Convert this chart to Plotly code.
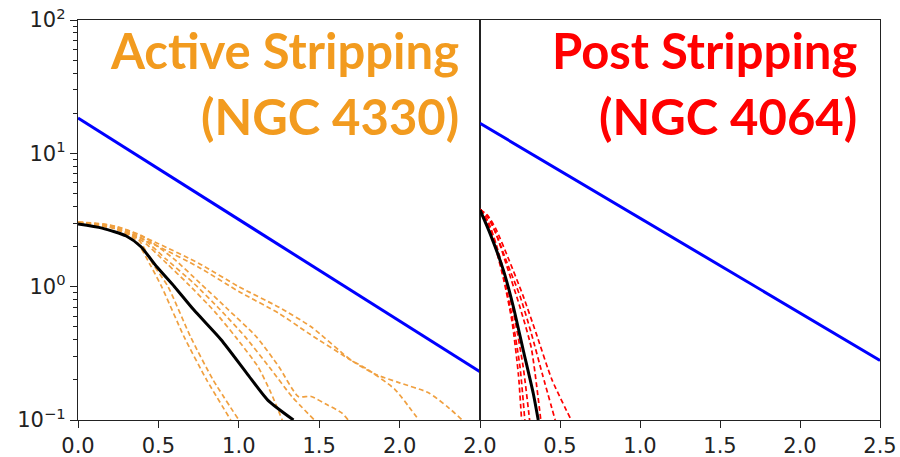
import plotly.graph_objects as go

# ---------------- data ----------------
# Left panel: NGC 4330 (active stripping)
blue_left_x = [0.0, 2.5]
blue_left_y = [18.4, 0.23]

black_left_x = [0.0, 0.15, 0.30, 0.39, 0.49, 0.60, 0.72, 0.89, 1.05, 1.18, 1.34]
black_left_y = [2.95, 2.75, 2.40, 2.00, 1.41, 1.00, 0.67, 0.40, 0.224, 0.141, 0.10]

orange_curves = [
    # steep pair
    ([0.0, 0.20, 0.35, 0.45, 0.52, 0.66, 0.80, 0.95],
     [3.0, 2.80, 2.30, 1.45, 1.00, 0.42, 0.20, 0.10]),
    ([0.0, 0.20, 0.37, 0.47, 0.56, 0.70, 0.84, 1.00],
     [3.0, 2.80, 2.30, 1.45, 1.00, 0.42, 0.20, 0.10]),
    # middle group
    ([0.0, 0.20, 0.40, 0.55, 0.68, 0.85, 0.98, 1.12, 1.20, 1.27],
     [3.0, 2.80, 2.20, 1.50, 1.06, 0.65, 0.42, 0.25, 0.16, 0.10]),
    ([0.0, 0.20, 0.40, 0.55, 0.72, 0.88, 1.04, 1.20, 1.33, 1.47],
     [3.05, 2.85, 2.30, 1.60, 1.06, 0.68, 0.42, 0.24, 0.15, 0.10]),
    ([0.0, 0.20, 0.40, 0.60, 0.76, 0.93, 1.11, 1.25, 1.37, 1.45, 1.55, 1.64, 1.68],
     [3.05, 2.90, 2.40, 1.60, 1.06, 0.68, 0.42, 0.25, 0.15, 0.15, 0.13, 0.113, 0.10]),
    # upper pair
    ([0.0, 0.25, 0.50, 0.75, 1.00, 1.25, 1.45, 1.70, 1.85, 2.00, 2.18, 2.30, 2.39],
     [3.05, 2.80, 2.10, 1.50, 1.00, 0.70, 0.50, 0.28, 0.22, 0.19, 0.16, 0.125, 0.10]),
    ([0.0, 0.25, 0.50, 0.75, 1.00, 1.25, 1.43, 1.70, 1.80, 1.97, 2.075, 2.12],
     [3.0, 2.70, 2.00, 1.40, 0.92, 0.63, 0.45, 0.28, 0.24, 0.17, 0.118, 0.10]),
]

# Right panel: NGC 4064 (post stripping)
blue_right_x = [0.0, 2.5]
blue_right_y = [16.8, 0.28]

black_right_x = [0.0, 0.0625, 0.146, 0.208, 0.27, 0.333, 0.364]
black_right_y = [3.76, 2.51, 1.33, 0.71, 0.335, 0.158, 0.10]

red_curves = [
    ([0.0, 0.05, 0.10, 0.15, 0.20, 0.24, 0.26],
     [3.8, 2.9, 1.9, 1.1, 0.55, 0.22, 0.10]),
    ([0.0, 0.05, 0.10, 0.15, 0.20, 0.25, 0.28],
     [3.8, 3.0, 2.0, 1.15, 0.60, 0.25, 0.10]),
    ([0.0, 0.05, 0.10, 0.16, 0.22, 0.27, 0.31],
     [3.8, 3.1, 2.1, 1.15, 0.55, 0.25, 0.10]),
    ([0.0, 0.05, 0.10, 0.17, 0.25, 0.32, 0.38],
     [3.8, 3.35, 2.5, 1.4, 0.70, 0.35, 0.10]),
    ([0.0, 0.05, 0.10, 0.17, 0.25, 0.32, 0.39, 0.47],
     [3.8, 3.3, 2.5, 1.5, 0.85, 0.45, 0.22, 0.10]),
    ([0.0, 0.05, 0.10, 0.18, 0.27, 0.35, 0.45, 0.57],
     [3.8, 3.4, 2.7, 1.6, 0.85, 0.45, 0.20, 0.10]),
]

y_tick_vals = [0.1, 1, 10, 100]
y_tick_text = ["10<sup>\u22121</sup>", "10<sup>0</sup>", "10<sup>1</sup>", "10<sup>2</sup>"]
x_left_ticks = [0.0, 0.5, 1.0, 1.5, 2.0]
x_left_text = ["0.0", "0.5", "1.0", "1.5", "2.0"]
x_right_ticks = [0.0, 0.5, 1.0, 1.5, 2.0, 2.5]
x_right_text = ["2.0", "0.5", "1.0", "1.5", "2.0", "2.5"]

title_left = ["Active Stripping", "(NGC 4330)"]
title_right = ["Post Stripping", "(NGC 4064)"]

# ---------------- figure ----------------
W, H = 900, 457
ORANGE_TXT = "#F29B1F"
ORANGE_LN = "#F0A040"
RED = "#FF0000"
AXC = "#222222"

fig = go.Figure()

spl = dict(shape="spline", smoothing=0.6)

for cx, cy in orange_curves:
    fig.add_trace(go.Scatter(x=cx, y=cy, mode="lines", xaxis="x", yaxis="y",
                             line=dict(color=ORANGE_LN, width=1.7, dash="5px,3px", **spl)))
fig.add_trace(go.Scatter(x=black_left_x, y=black_left_y, mode="lines", xaxis="x", yaxis="y",
                         line=dict(color="black", width=3, **spl)))
fig.add_trace(go.Scatter(x=blue_left_x, y=blue_left_y, mode="lines", xaxis="x", yaxis="y",
                         line=dict(color="#0000FF", width=3)))

for cx, cy in red_curves:
    fig.add_trace(go.Scatter(x=cx, y=cy, mode="lines", xaxis="x2", yaxis="y2",
                             line=dict(color=RED, width=1.7, dash="5px,3px", **spl)))
fig.add_trace(go.Scatter(x=black_right_x, y=black_right_y, mode="lines", xaxis="x2", yaxis="y2",
                         line=dict(color="black", width=3, **spl)))
fig.add_trace(go.Scatter(x=blue_right_x, y=blue_right_y, mode="lines", xaxis="x2", yaxis="y2",
                         line=dict(color="#0000FF", width=3)))

x0L, x1L, x1R = 78, 480, 880
yT, yB = 20, 420
ydom = [1 - yB / H, 1 - yT / H]

minor_vals = [m * 10 ** e for e in (-1, 0, 1) for m in range(2, 10)]
tickfont = dict(family="DejaVu Sans", size=21, color=AXC)

common_x = dict(range=[0, 2.5], showline=True, linecolor=AXC, linewidth=1.4, mirror=True,
                ticks="outside", ticklen=7, tickwidth=1.3, tickcolor=AXC,
                showgrid=False, zeroline=False, tickfont=tickfont, automargin=False)
common_y = dict(type="log", range=[-1, 2], showline=True, linecolor=AXC, linewidth=1.4,
                mirror=True, showgrid=False, zeroline=False, automargin=False)

fig.update_layout(
    width=W, height=H,
    margin=dict(l=0, r=0, t=0, b=0, autoexpand=False),
    paper_bgcolor="white", plot_bgcolor="white",
    showlegend=False,
    xaxis=dict(domain=[x0L / W, x1L / W], anchor="y",
               tickvals=x_left_ticks, ticktext=x_left_text, **common_x),
    yaxis=dict(domain=ydom, anchor="x", tickvals=y_tick_vals, ticktext=y_tick_text,
               ticks="outside", ticklen=7, tickwidth=1.3, tickcolor=AXC, tickfont=tickfont,
               minor=dict(tickvals=minor_vals, ticks="outside", ticklen=4,
                          tickwidth=1, tickcolor=AXC),
               **common_y),
    xaxis2=dict(domain=[x1L / W, x1R / W], anchor="y2",
                tickvals=x_right_ticks, ticktext=x_right_text, **common_x),
    yaxis2=dict(domain=ydom, anchor="x2", showticklabels=False, ticks="", **common_y),
)

title_font = "Lato"
fs = 49
rows_y = [50, 116]
for i in range(2):
    fig.add_annotation(x=461 / W, y=1 - rows_y[i] / H, xref="paper", yref="paper",
                       xanchor="right", yanchor="middle", text="<b>%s</b>" % title_left[i],
                       showarrow=False, font=dict(family=title_font, size=fs, color=ORANGE_TXT))
    fig.add_annotation(x=859 / W, y=1 - rows_y[i] / H, xref="paper", yref="paper",
                       xanchor="right", yanchor="middle", text="<b>%s</b>" % title_right[i],
                       showarrow=False, font=dict(family=title_font, size=fs, color=RED))

fig.write_html("out.html")
